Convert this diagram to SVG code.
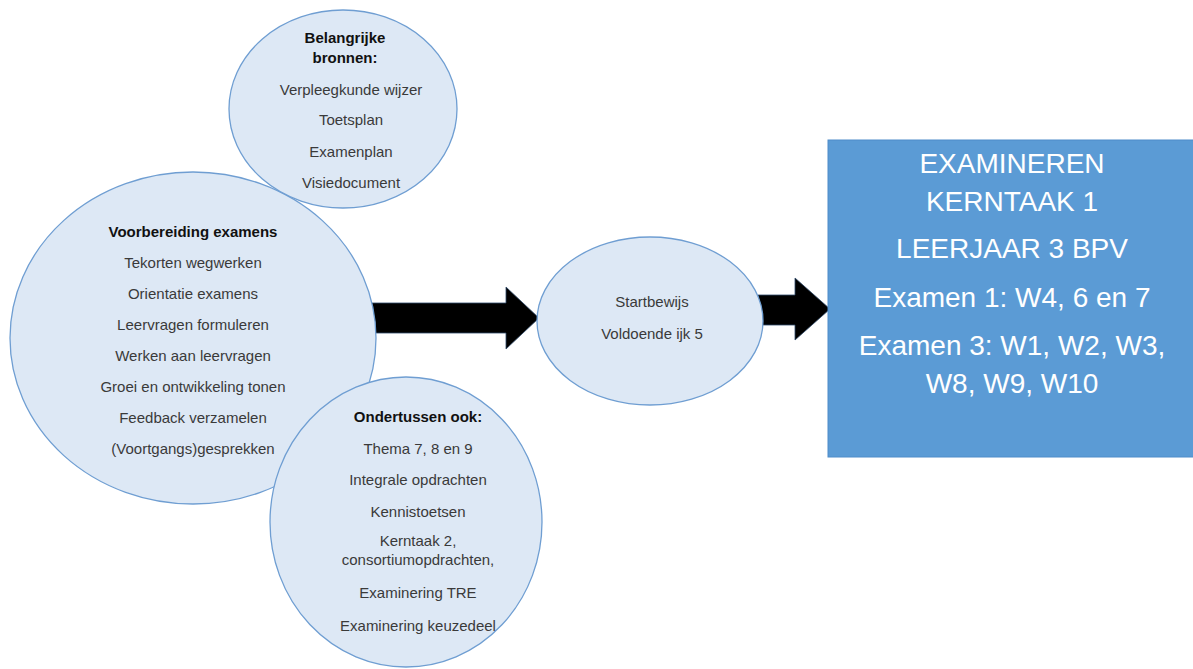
<svg xmlns="http://www.w3.org/2000/svg" width="1193" height="669" viewBox="0 0 1193 669">
<style>
.bub{fill:#DDE8F5;stroke:#6F9ED2;stroke-width:1.3}
.t{font-family:"Liberation Sans",Arial,sans-serif;font-size:15px;fill:#3a3a3a;text-anchor:middle}
.b{font-weight:bold;fill:#111}
.w{font-family:"Liberation Sans",Arial,sans-serif;font-size:28px;fill:#ffffff;text-anchor:middle}
.arr{fill:#000;stroke:#2E4A6B;stroke-width:0.8}
</style>
<rect width="1193" height="669" fill="#ffffff"/>
<g id="connectors">
<polygon class="arr" points="370,303 506,303 506,287 539,318 506,349 506,333 370,333"/>
<polygon class="arr" points="758,295 795,295 795,278 830,309 795,340 795,325 758,325"/>
</g>
<g id="node-voorbereiding">
<ellipse class="bub" cx="193" cy="338" rx="183" ry="166"/>
<text class="t b" x="193" y="237">Voorbereiding examens</text>
<text class="t" x="193" y="268">Tekorten wegwerken</text>
<text class="t" x="193" y="299">Orientatie examens</text>
<text class="t" x="193" y="330">Leervragen formuleren</text>
<text class="t" x="193" y="361">Werken aan leervragen</text>
<text class="t" x="193" y="392">Groei en ontwikkeling tonen</text>
<text class="t" x="193" y="423">Feedback verzamelen</text>
<text class="t" x="193" y="454">(Voortgangs)gesprekken</text>
</g>
<g id="node-bronnen">
<ellipse class="bub" cx="343" cy="109" rx="114" ry="99"/>
<text class="t b" x="345" y="43">Belangrijke</text>
<text class="t b" x="345" y="63">bronnen:</text>
<text class="t" x="351" y="95">Verpleegkunde wijzer</text>
<text class="t" x="351" y="125">Toetsplan</text>
<text class="t" x="351" y="157">Examenplan</text>
<text class="t" x="351" y="188">Visiedocument</text>
</g>
<g id="node-ondertussen">
<ellipse class="bub" cx="406" cy="522" rx="136" ry="145"/>
<text class="t b" x="418" y="422">Ondertussen ook:</text>
<text class="t" x="418" y="454">Thema 7, 8 en 9</text>
<text class="t" x="418" y="485">Integrale opdrachten</text>
<text class="t" x="418" y="517">Kennistoetsen</text>
<text class="t" x="418" y="546">Kerntaak 2,</text>
<text class="t" x="418" y="565">consortiumopdrachten,</text>
<text class="t" x="418" y="598">Examinering TRE</text>
<text class="t" x="418" y="631">Examinering keuzedeel</text>
</g>
<g id="node-startbewijs">
<ellipse class="bub" cx="650" cy="321" rx="113" ry="84"/>
<text class="t" x="652" y="307">Startbewijs</text>
<text class="t" x="652" y="339">Voldoende ijk 5</text>
</g>
<g id="node-examineren">
<rect x="828" y="140" width="370" height="317" fill="#5B9BD5" stroke="#4F8CC9" stroke-width="1"/>
<text class="w" x="1012" y="173">EXAMINEREN</text>
<text class="w" x="1012" y="211">KERNTAAK 1</text>
<text class="w" x="1012" y="258">LEERJAAR 3 BPV</text>
<text class="w" x="1012" y="307">Examen 1: W4, 6 en 7</text>
<text class="w" x="1012" y="355">Examen 3: W1, W2, W3,</text>
<text class="w" x="1012" y="393">W8, W9, W10</text>
</g>
</svg>
